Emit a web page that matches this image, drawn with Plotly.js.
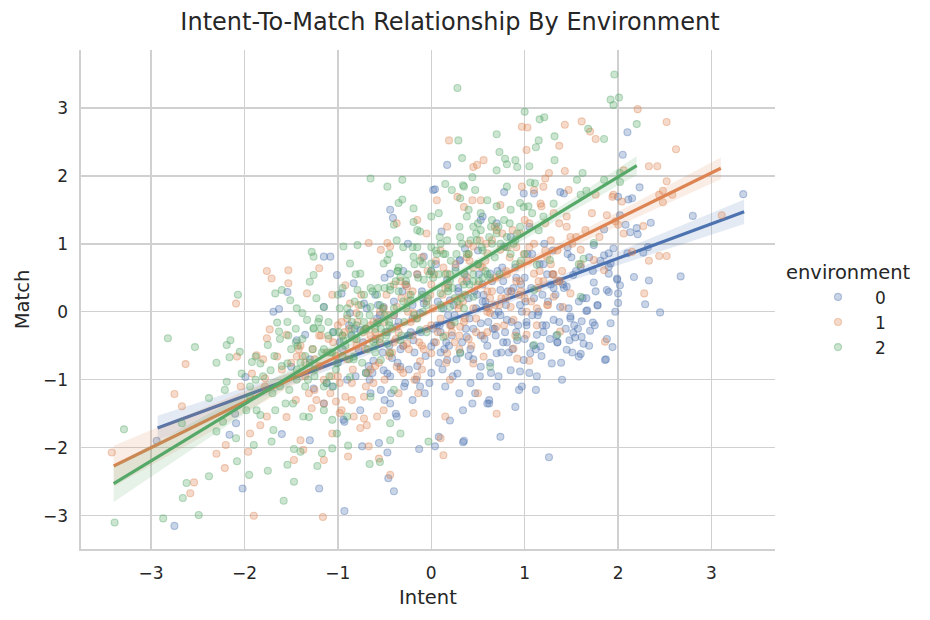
<!DOCTYPE html>
<html>
<head>
<meta charset="utf-8">
<script src="https://cdn.plot.ly/plotly-3.0.1.min.js"></script>
<style>html,body{margin:0;padding:0;background:#fff;}#chart{width:930px;height:620px;}</style>
</head>
<body>
<div id="chart"></div>
<script>
// ---------- data ----------
const envNames = ['0', '1', '2'];
const envColors = ['76,114,176', '221,132,82', '85,168,104'];

const x0 = [-2.94,-2.75,-2.02,-1.2,-0.93,-0.46,-0.40,-2.09,-2.16,-1.6,-1.3,-0.93,-0.74,-0.56,-0.47,-0.13,0.04,0.08,
3.34,2.8,2.1,2.05,2.23,2.35,2.2,2.13,2.21,2.32,2.27,2.67,2.17,2.33,2.0,2.29,2.45,1.9,2.0,1.78,1.74,1.66,1.49,1.61,1.73,1.7,1.54,1.63,1.69,1.94,1.6,1.87,1.48,1.52,
1.95,1.85,1.9,1.9,1.99,2.02,1.9,1.74,1.85,2.08,2.02,2.15,2.11,2.0,1.92,1.67,1.61,1.45,1.86,1.58,1.49,1.88,1.99,2.1,1.92,1.78,1.75,
1.29,1.13,1.06,0.99,1.17,1.31,1.38,1.52,1.45,1.6,1.42,1.38,1.1,0.78,0.99,0.53,0.36,0.11,0.02,0.7,0.78,0.63,0.74,0.59,0.53,0.38,0.81,0.92,0.7,0.53,0.28,0.95,0.85,0.72,
0.17,0.0,-0.19,-0.33,-0.47,-0.37,-0.12,0.17,0.31,-0.08,-0.44,-0.41,0.05,0.2,-1.15,-1.08,-1.54,-1.63,-1.69,-1.44,-1.35,-1.5,-1.26,-1.99,-2.1,-1.15,-1.06,-0.96,-0.83,-0.87,-0.76,
-0.51,-0.54,-0.76,-0.94,-0.44,-0.37,-1.15,-1.01,-0.44,-0.51,0.17,0.04,
-0.3,0.1,0.4,0.6,-0.1,0.8,0.3,-0.6,1.0,0.5,-0.2,0.9,0.2,1.1,-0.5,0.7,1.3,1.4,0.0,-0.9,-0.7,1.2,0.45,-0.15,0.65,1.05,0.25,-0.4,0.85,1.55,-1.3,-0.05,0.35,0.55,-0.25,
1.26,0.74,0.34,
-0.85,-0.62,-0.35,-0.18,0.12,0.33,0.48,0.66,0.88,1.02,
1.18,1.33,-0.72,-0.28,0.06,0.42,0.77,1.12,1.37,-0.95,
-0.55,-0.08,0.22,0.58,0.93,1.24,1.47,-0.42,0.15,0.68,
1.08,0.38,-0.65,-0.22,0.52,0.97,1.27,-1.05,-0.3,0.27,
0.82,1.15,-0.5,0.0,0.45,0.9,1.35,-0.15,0.62,1.05,
-0.78,0.3,0.75,1.2,-0.38,0.1,0.55,1.0,1.42,-0.6,
-1.12,-0.98,-0.81,-0.69,-0.52,-0.43,-0.31,-0.24,-0.11,-0.02,
0.07,0.14,0.23,0.29,0.37,0.44,0.51,0.57,0.64,0.71,
0.79,0.86,0.94,1.01,1.09,1.16,1.23,1.31,1.39,1.46,
-0.88,-0.66,-0.47,-0.27,-0.06,0.18,0.34,0.49,0.61,0.83,
0.97,1.14,1.28,1.44,1.58,-0.58,-0.16,0.26,0.69,1.21,
-0.73,-0.36,0.03,0.4,0.76,1.12,1.5,-0.2,0.56,0.91,
-1.0,-0.4,0.13,0.46,0.87,1.34,1.66,0.31,-0.09,0.62,
1.03,0.21,-0.63,0.72,1.19,0.41,-0.33,0.96,1.53,0.08,
-0.57,-0.29,0.09,0.36,0.63,0.91,1.19,1.46,1.73,1.97,
-0.82,-0.44,-0.07,0.24,0.53,0.81,1.07,1.35,1.62,1.88,
-0.67,-0.2,0.16,0.47,0.74,1.02,1.3,1.57,1.81,0.6,
-0.12,0.29,0.68,1.08,1.41,1.69,-0.45,0.02,0.86,1.25,
0.42,0.95,1.51,-0.25,0.19,0.77,1.37,1.76,0.55,1.13];
const y0 = [-1.9,-3.15,-2.6,-2.6,-2.93,-2.45,-2.64,-1.64,-1.81,-1.8,-1.89,-1.62,-1.98,-1.93,-2.07,-2.02,-1.98,-1.84,
1.73,1.41,2.64,2.31,1.83,1.31,1.23,1.17,1.14,0.95,0.87,0.52,0.51,0.46,0.27,0.11,-0.01,0.29,0.13,0.09,0.43,0.01,-0.1,-0.14,-0.16,-0.28,-0.38,-0.47,-0.5,-0.52,-0.62,-0.7,-0.42,-0.31,
0.93,0.83,0.86,0.66,0.49,0.39,0.56,0.98,1.21,1.28,1.42,1.67,1.65,1.69,-0.17,0.02,-0.37,-0.56,-0.71,-0.66,-0.07,0.32,0.47,0.86,0.71,0.1,-0.2,
-0.76,-0.34,-0.61,-0.71,-0.51,-0.12,0.07,0.54,0.37,0.66,1.74,1.76,1.74,1.76,1.74,1.35,0.93,1.18,1.79,1.3,0.96,0.56,0.32,0.07,-0.17,-0.37,-0.12,-0.42,-0.61,-0.81,-0.91,-0.88,-0.86,-0.95,
-0.71,-0.51,-0.42,-0.81,-0.91,-0.22,-0.02,0.47,0.76,0.81,1.5,1.38,0.7,0.17,0.81,0.81,0.29,0.04,0.0,-0.42,-0.34,-0.81,-1.13,-0.96,-1.5,-1.35,-1.1,0.27,0.42,-0.02,-0.27,
-0.86,-1.15,-1.45,-1.59,-1.35,-1.54,0.07,0.54,0.56,0.07,2.16,1.8,
-0.5,-0.3,0.2,-0.5,0.3,0.1,-1.2,-0.4,0.5,0.9,-1.3,-1.4,-1.6,0.2,0.5,-1.1,0.9,-1.0,0.6,-1.0,-0.9,-0.3,-0.7,-0.8,0.45,-0.9,-0.05,0.15,1.1,0.6,-0.7,-1.5,-1.9,1.4,1.0,
-2.14,-1.84,-1.92,
-0.35,-0.72,-0.15,-0.6,-0.85,-0.45,0.05,-0.25,0.35,-0.15,
-0.65,0.25,0.12,-1.05,-0.2,-0.55,-0.45,-1.15,0.45,-0.55,
-0.05,0.12,-0.35,0.15,-0.2,0.55,0.05,-0.68,-1.1,-0.05,
0.85,0.45,-1.2,-0.3,-0.95,-1.1,-0.4,-0.3,0.6,-0.7,
0.3,0.0,-1.3,-0.9,-0.25,0.65,-0.45,0.55,-1.3,1.25,
-0.55,0.75,-0.6,0.7,-1.5,-0.6,0.4,-0.4,0.35,0.25,
-1.05,-0.45,-0.95,0.05,-0.6,-1.2,0.3,-0.85,-0.3,-1.05,
0.15,-0.55,-0.95,0.35,-0.25,-1.35,0.55,-0.4,-0.9,0.6,
-0.3,0.3,-1.15,0.15,-0.5,0.7,-0.2,0.35,-0.75,0.95,
-0.2,-1.0,-0.3,0.4,-0.65,-0.05,-1.45,0.25,-0.15,-0.6,
0.0,-0.05,0.4,-0.25,0.15,-0.1,-1.0,0.65,-0.35,1.0,
-0.45,-0.75,-0.45,-0.65,0.65,-0.55,0.8,0.1,0.25,-0.3,
-0.75,-0.05,0.05,0.3,-0.55,-0.35,0.2,-0.6,0.2,-1.35,
0.85,-0.2,-0.9,0.0,0.25,-0.1,-0.55,0.4,-0.2,-0.75,
0.1,-1.1,-0.2,0.55,-0.75,0.5,-0.2,0.85,0.6,0.0,
-0.25,-0.95,-1.2,0.1,-0.35,-0.45,0.35,-0.45,0.2,-0.4,
-0.8,-0.1,-0.45,-1.2,-0.05,-0.2,0.55,-0.25,0.75,-1.35,
-1.1,0.3,-0.25,-0.05,0.4,0.8,-0.5,-0.25,-0.15,0.15,
-1.05,0.1,-0.6,-0.35,-0.5,0.45,-0.15,0.3,0.15,-0.95];

const x1 = [-3.42,-2.75,-2.67,-2.54,-2.58,-1.9,-1.16,-2.3,-2.21,-2.2,-1.96,-1.94,-1.83,-1.76,-1.47,-1.37,-1.15,-0.89,-0.56,-0.44,-1.06,-0.76,-0.67,0.13,0.1,-0.14,-0.19,-1.23,-1.4,-0.98,-0.83,-0.72,0.15,
-2.63,-2.09,-1.76,-1.71,-1.53,-1.53,-1.76,-1.73,-1.55,-1.65,-1.8,-2.08,-1.87,-1.44,-1.33,-1.2,-1.06,-0.67,-0.54,-0.47,-0.92,-0.87,-0.8,-1.08,-1.02,-1.28,-0.96,-0.72,-0.69,-0.58,-0.51,-0.37,-2.04,-1.92,-1.78,
0.19,0.97,1.03,1.43,1.61,1.7,1.76,2.21,2.33,2.42,1.02,1.37,0.56,0.45,0.49,1.26,1.43,1.22,1.2,1.47,0.35,0.44,0.74,0.97,1.1,1.76,1.95,2.06,
2.52,2.62,2.52,2.48,2.58,2.44,2.48,3.11,2.27,2.33,2.44,2.52,2.28,1.86,2.15,2.04,1.94,1.85,2.0,
1.13,1.38,1.41,1.31,1.49,1.6,1.74,1.88,2.06,1.97,1.45,1.31,1.17,0.88,1.02,1.02,0.85,0.63,0.92,1.05,0.7,0.45,0.56,0.88,0.31,0.17,0.0,-0.12,-0.26,-0.19,-0.37,-0.26,
0.17,0.38,0.53,0.6,0.45,0.74,0.95,1.1,1.24,0.17,-0.05,-0.15,0.06,-0.44,-0.37,0.53,0.28,
-0.3,-0.6,-0.9,-0.2,0.1,-0.5,0.3,-1.2,-1.4,0.0,-0.1,0.4,0.6,0.8,-0.4,0.2,-0.7,0.5,0.7,-1.0,
-1.35,-1.1,-0.85,-0.65,-0.45,-0.25,-0.05,0.15,0.35,0.55,
0.75,0.95,1.15,1.35,-1.25,-0.95,-0.75,-0.55,-0.35,-0.15,
0.05,0.25,0.45,0.65,0.85,1.05,1.25,-1.0,-0.6,-0.2,
0.2,0.6,1.0,1.4,-0.8,-0.4,0.0,0.4,0.8,1.2,
-1.15,-0.7,-0.3,0.1,0.5,0.9,1.3,-0.5,0.3,0.7,
-0.9,-0.1,0.6,1.1,-1.45,-0.65,0.15,0.95,1.55,-0.35,
-1.55,-1.42,-1.31,-1.18,-1.07,-0.96,-0.84,-0.73,-0.62,-0.51,
-0.42,-0.33,-0.24,-0.13,-0.04,0.07,0.16,0.26,0.34,0.43,
0.52,0.61,0.69,0.78,0.87,0.96,1.04,1.13,1.22,1.31,
-1.25,-0.98,-0.78,-0.57,-0.38,-0.18,0.02,0.22,0.41,0.63,
0.84,1.07,1.28,1.49,-0.88,-0.48,-0.08,0.33,0.73,1.16,
-1.05,-0.68,-0.28,0.12,0.48,0.91,1.38,-0.15,0.58,-0.55,
-1.35,-0.82,-0.22,0.29,0.81,1.24,0.05,-0.45,0.68,1.0,
-0.7,-0.05,0.38,0.99,-1.12,0.18,-0.32,0.55,1.45,-0.92,
-1.78,-1.6,-1.38,-1.15,-0.93,-0.7,-0.47,-0.24,-0.01,0.22,
0.45,0.68,0.91,1.14,1.37,1.6,1.8,-1.5,-1.02,-0.56,
-0.1,0.36,0.82,1.28,1.72,-1.27,-0.79,-0.33,0.13,0.59,
1.05,1.51,-0.62,-0.16,0.3,0.76,1.22,-0.4,0.48,0.94,
-1.2,-0.85,0.03,0.65,1.18,1.65,-0.25,0.4,1.35,-0.65];
const y1 = [-2.07,-1.21,-1.39,-2.51,-2.67,-3.0,-3.02,-2.09,-2.3,-1.96,-2.06,-1.79,-1.67,-1.54,-2.18,-2.03,-2.18,-2.13,-2.16,-2.4,-1.79,-1.71,-1.98,-2.11,-1.86,-1.2,-1.49,-1.3,-1.89,-1.49,-1.54,-1.25,-1.54,
-0.77,0.12,0.6,0.49,0.61,0.42,-0.39,-0.26,-0.34,-0.66,-0.7,-0.66,-0.64,-0.66,0.27,0.64,0.25,1.01,0.91,1.01,0.39,0.12,-0.02,-1.2,-1.32,-1.42,-1.45,-1.57,-1.67,-1.54,-1.45,-0.81,-1.1,-0.91,-0.98,
2.52,2.72,2.71,2.75,2.8,2.65,2.54,2.98,2.14,2.14,2.38,2.44,2.23,2.13,2.16,2.04,2.07,1.96,1.84,1.79,1.54,1.64,1.57,1.84,1.79,1.72,1.72,2.08,
2.79,2.39,1.92,1.78,1.72,1.72,1.61,1.42,1.26,0.75,0.82,0.82,0.27,-0.44,0.88,1.62,1.69,0.61,1.28,
-0.2,-0.29,0.07,0.22,0.27,0.91,0.76,1.42,1.15,1.33,1.25,1.45,1.59,-0.12,0.0,-0.34,0.07,-0.02,-0.69,-0.72,-0.22,-0.76,-0.66,-0.54,-0.22,-0.61,-0.61,-0.73,-0.47,-0.02,0.07,0.37,
0.56,0.51,0.66,0.86,0.96,0.91,0.71,0.56,0.81,1.25,1.15,1.35,1.64,0.96,1.3,1.64,1.69,
-0.9,-0.3,-0.7,0.3,-0.1,-1.0,0.1,-0.8,-0.5,0.4,-0.5,-0.4,0.3,0.6,0.4,-1.0,-1.1,-1.2,-1.5,-0.2,
-0.75,-0.4,-1.05,-0.2,-0.65,0.15,-0.25,0.35,-0.15,0.65,
0.2,1.15,0.45,0.9,-1.15,-0.35,0.25,-0.45,-0.3,0.55,
0.75,-0.45,0.05,1.05,0.3,0.95,0.1,-0.95,-0.8,-0.35,
-0.2,0.0,1.35,0.6,-0.5,-0.05,-0.2,1.0,0.2,0.45,
-1.0,-0.55,-0.5,0.9,0.4,-0.35,0.55,-0.15,-0.55,1.2,
-0.1,0.8,-0.3,1.0,-1.3,-0.85,-0.35,0.45,1.1,-1.2,
-1.55,-0.55,-1.2,-0.35,-0.95,-0.15,-0.85,-0.3,-1.05,0.05,
-0.6,-0.85,0.25,-0.45,0.6,-0.3,-0.75,0.7,0.15,-0.5,
1.05,0.05,0.5,-0.2,1.2,0.3,0.75,0.05,1.3,0.55,
-0.7,-1.05,0.1,-0.15,-0.4,-1.0,0.05,-0.2,0.75,0.2,
0.8,0.15,1.05,1.1,-0.25,0.25,-0.55,0.45,0.1,0.6,
-0.45,-0.9,0.4,0.25,-0.1,0.95,0.45,-0.95,0.75,0.0,
-0.95,-0.4,-0.15,0.05,0.55,0.1,-0.45,-0.6,1.25,0.2,
-0.25,0.15,0.8,0.85,-0.6,0.4,0.2,-0.35,1.4,-1.25,
-1.1,-0.85,-0.65,-1.35,-0.3,-0.25,-0.05,-0.55,0.25,-0.3,
0.65,0.1,0.45,0.35,1.3,0.7,1.1,-0.75,-0.65,-0.75,
-0.85,-0.1,0.95,0.7,1.45,-0.55,-0.15,0.45,0.65,1.0,
1.3,1.0,-0.15,-0.1,-0.35,1.15,0.9,-0.45,-0.3,0.25,
-0.35,-1.3,0.55,0.3,1.55,1.2,0.0,0.85,0.45,-0.35];

const x2 = [-3.39,-3.29,-2.87,-2.49,-2.66,-2.62,-2.38,-2.38,-2.3,-2.23,-2.21,-2.09,-2.08,-1.95,-1.75,-1.58,-1.47,-1.54,-1.47,-1.22,-1.17,-1.06,-0.89,-0.66,-0.55,-0.03,-1.71,-1.69,-1.9,-1.83,-1.31,-1.4,-1.06,-1.01,-0.33,-0.44,-2.67,
-2.82,-2.53,-2.3,-2.19,-2.15,-2.07,-2.16,-2.19,-2.05,-2.03,-1.94,-1.92,-1.88,-1.67,-1.65,-1.6,-1.51,-1.44,-1.63,-1.54,-1.33,-1.26,-1.28,-1.26,-1.26,-1.3,-1.38,-1.23,-1.15,
-1.75,-1.83,-1.72,-1.54,-1.94,-1.87,-1.67,-1.62,-1.44,-1.48,-1.37,-1.15,-1.05,-1.01,-0.87,-0.83,-0.94,-0.72,-0.65,-0.79,-0.76,-0.87,-0.94,-0.79,-0.51,-0.44,-0.58,-0.47,-0.54,-0.4,-0.65,-0.9,-0.44,
0.28,1.96,1.92,1.95,2.01,2.2,1.0,1.16,1.21,0.7,0.29,1.68,1.85,1.32,1.15,1.12,0.73,0.33,0.9,0.92,1.32,1.05,1.62,0.81,0.44,0.15,0.34,0.47,0.22,1.06,1.11,1.56,1.85,2.02,0.0,0.08,0.31,0.79,0.7,1.6,1.66,
-0.65,-0.31,-0.31,-0.35,-0.19,-0.19,-0.4,-0.12,0.35,0.6,0.53,0.38,0.17,0.31,0.49,0.7,0.95,0.99,0.85,0.81,1.31,1.74,1.6,1.27,1.1,1.13,0.53,
-0.19,-0.37,-0.47,0.0,0.35,-0.08,-0.33,-0.44,0.1,-0.22,0.2,0.45,-0.12,-0.33,-0.44,0.13,0.31,0.63,0.92,1.35,1.1,-0.47,1.63,1.58,2.02,
-1.45,-1.25,-1.05,-0.85,-0.65,-0.45,-0.25,-0.05,0.15,0.35,
-1.35,-1.15,-0.95,-0.75,-0.55,-0.35,-0.15,0.05,0.25,0.45,
-1.6,-1.2,-0.8,-0.4,0.0,0.4,0.6,-1.0,-0.6,-0.2,
0.2,-1.3,-0.9,-0.5,-0.1,0.3,0.55,-0.7,-0.3,0.1,
0.7,0.9,-1.1,-0.45,0.25,0.5,-0.85,-0.15,0.35,0.8,
-1.5,-0.6,-0.05,0.45,1.2,-1.15,-0.35,0.15,0.65,1.0,
-1.68,-1.56,-1.43,-1.32,-1.21,-1.09,-0.98,-0.88,-0.77,-0.68,
-0.58,-0.49,-0.38,-0.29,-0.18,-0.09,0.02,0.11,0.21,0.32,
0.42,0.51,0.62,0.73,0.84,0.96,1.08,-1.38,-1.12,-0.82,
-0.62,-0.42,-0.22,-0.02,0.18,0.38,0.58,0.78,-1.52,-0.92,
-0.72,-0.52,-0.32,-0.12,0.08,0.28,0.48,0.68,0.88,-1.02,
-1.27,-0.57,0.13,0.55,-0.83,-0.27,0.33,0.92,-0.04,-0.66,
-1.18,-0.48,0.23,0.64,-0.14,-0.95,0.41,-0.36,1.15,-0.74,
-1.45,0.06,-0.55,0.74,-0.24,0.5,-0.86,0.26,-1.06,1.04,
-1.98,-1.8,-1.62,-1.44,-1.26,-1.08,-0.9,-0.72,-0.54,-0.36,
-0.18,0.0,0.18,0.36,0.54,0.72,0.9,-1.7,-1.35,-0.99,
-0.63,-0.27,0.09,0.45,0.81,-1.53,-1.17,-0.81,-0.45,-0.09,
0.27,0.63,-1.88,-1.1,-0.7,-0.3,0.1,0.5,0.95,-0.5,
-1.4,-0.95,-0.15,0.4,0.85,-1.25,-0.6,0.2,0.65,-0.8];
const y2 = [-3.1,-1.73,-3.04,-2.99,-2.74,-2.52,-2.42,-1.27,-1.76,-1.62,-1.15,-1.86,-2.2,-2.4,-2.34,-2.78,-2.5,-2.25,-2.02,-2.27,-2.08,-2.01,-1.97,-2.24,-2.21,-1.91,-1.91,-1.74,-1.96,-1.52,-1.55,-2.06,-1.59,-1.79,-1.79,-1.89,-1.64,
-0.39,-0.52,-0.75,-0.49,-0.42,0.25,-0.67,-1.03,-0.59,-0.91,-1.1,-0.74,-0.66,0.27,-0.16,0.32,0.17,0.05,-0.29,-0.15,-0.12,-0.24,0.88,0.81,0.54,0.44,-0.02,0.2,0.07,
-0.49,-0.76,-0.86,-0.76,-1.25,-1.45,-1.45,-1.1,-1.0,-1.35,-1.54,-1.45,-1.1,-0.76,-0.96,-0.66,-0.42,-0.27,0.07,0.32,0.56,0.71,0.96,0.98,0.71,0.37,-0.17,-0.47,-0.71,-1.15,-1.25,-1.54,-1.64,
3.29,3.49,3.12,3.04,3.15,2.76,2.94,2.83,2.86,2.61,2.52,2.69,2.54,2.58,2.52,2.42,2.35,2.26,2.23,2.13,2.23,2.14,2.04,2.17,1.98,1.88,1.86,1.79,1.79,1.9,1.89,1.94,1.94,1.91,1.4,1.45,1.67,2.25,2.08,1.72,1.78,
1.96,1.94,1.65,1.6,1.52,1.32,1.28,1.18,1.84,1.64,1.45,1.4,1.05,1.1,1.05,1.15,1.25,1.54,1.5,1.84,1.59,1.01,0.22,0.76,0.32,0.69,1.2,
0.81,1.05,0.76,0.71,0.56,0.47,0.51,0.32,0.27,0.17,0.07,0.22,-0.27,-0.42,-0.61,-0.37,-0.61,-0.81,-0.37,-0.34,-0.49,1.84,0.78,0.7,2.04,
-0.45,-0.85,-0.3,-0.15,0.35,-0.2,0.55,0.1,0.85,0.4,
-1.1,-0.55,-0.65,0.1,-0.4,0.65,-0.1,0.9,0.2,1.25,
-0.8,-0.1,-0.4,0.05,0.6,0.85,0.55,0.25,-0.6,0.95,
0.45,-0.75,0.05,-0.05,0.25,1.25,0.9,-0.9,0.15,1.0,
1.55,1.05,-0.35,0.85,-0.15,0.7,-0.25,1.2,0.05,0.95,
-0.55,-0.25,-0.3,0.45,1.4,-1.1,0.3,0.55,1.35,0.85,
-0.65,-1.35,-0.5,-1.0,-0.15,-0.95,0.05,-0.7,-0.05,-0.55,
0.25,-0.3,0.45,-0.15,0.7,0.0,0.5,0.05,0.75,0.2,
1.05,0.45,1.1,0.55,1.3,0.75,1.45,-0.4,-1.05,0.15,
-0.45,-0.25,0.25,0.55,0.3,0.85,0.6,1.35,-1.15,-0.5,
-0.15,0.05,-0.35,0.75,0.55,0.15,1.15,0.8,1.0,-0.85,
-0.55,0.35,0.85,0.5,-0.7,0.05,1.0,1.15,0.2,-0.05,
-0.25,-0.35,0.35,1.25,0.5,-0.35,0.4,0.6,1.2,-0.75,
-0.25,0.85,0.1,1.0,-0.35,1.3,-0.35,0.6,-0.6,1.55,
-1.45,-0.95,-0.4,-0.85,-0.25,-0.6,-0.05,0.25,-0.25,0.6,
-0.05,0.95,0.35,0.25,0.95,1.25,0.7,-1.2,-0.65,-0.3,
0.3,0.45,1.1,0.55,1.1,-0.35,-0.6,0.55,-0.15,0.7,
0.85,0.5,-1.0,-0.15,-0.25,0.95,0.1,0.7,1.6,0.35,
-0.75,0.35,0.95,1.5,0.85,-0.95,-0.5,0.55,1.0,-0.2];

// regression fits (line values and confidence half-widths)
const fitX0 = [-2.93, -1.5, 0, 1.5, 3.35];
const fitY0 = [-1.71, -0.985, -0.23, 0.53, 1.47];
const ci0   = [0.18, 0.09, 0.045, 0.07, 0.18];
const fitX1 = [-3.4, -1.5, 0, 1.5, 3.1];
const fitY1 = [-2.27, -0.99, 0.02, 1.03, 2.11];
const ci1   = [0.3, 0.11, 0.05, 0.08, 0.16];
const fitX2 = [-3.4, -1.5, 0, 1.5, 2.2];
const fitY2 = [-2.53, -0.94, 0.31, 1.56, 2.15];
const ci2   = [0.27, 0.1, 0.05, 0.09, 0.14];

const tickVals = [-3, -2, -1, 0, 1, 2, 3];
const xTickText = ['\u22123', '\u22122', '\u22121', '0', '1', '2', '3'];
const yTickText = ['\u22123', '\u22122', '\u22121', '0', '1', '2', '3'];

// ---------- traces ----------
const groups = [
  {x: x0, y: y0, fx: fitX0, fy: fitY0, ci: ci0},
  {x: x1, y: y1, fx: fitX1, fy: fitY1, ci: ci1},
  {x: x2, y: y2, fx: fitX2, fy: fitY2, ci: ci2}
];
const traces = [];
groups.forEach((g, i) => {
  const c = envColors[i];
  traces.push({
    type: 'scatter', mode: 'markers', x: g.x, y: g.y, name: envNames[i],
    marker: {size: 7, color: 'rgba(' + c + ',0.3)', line: {color: 'rgba(' + c + ',0.4)', width: 1.1}},
    hoverinfo: 'skip', legendgroup: envNames[i]
  });
  const up = g.fy.map((v, k) => v + g.ci[k]);
  const lo = g.fy.map((v, k) => v - g.ci[k]);
  traces.push({
    type: 'scatter', mode: 'lines', x: g.fx.concat(g.fx.slice().reverse()),
    y: up.concat(lo.slice().reverse()), fill: 'toself',
    fillcolor: 'rgba(' + c + ',0.15)', line: {width: 0}, showlegend: false, hoverinfo: 'skip'
  });
  traces.push({
    type: 'scatter', mode: 'lines', x: g.fx, y: g.fy,
    line: {color: 'rgb(' + c + ')', width: 3.2}, showlegend: false, hoverinfo: 'skip'
  });
});

const FONT = 'DejaVu Sans, Liberation Sans, sans-serif';
const TXT = '#262626';
const GRID = '#d0d0d0';
const layout = {
  width: 930, height: 620,
  margin: {l: 81, r: 155, t: 50, b: 71},
  paper_bgcolor: '#ffffff', plot_bgcolor: '#ffffff',
  font: {family: FONT, color: TXT, size: 17},
  title: {text: 'Intent-To-Match Relationship By Environment', x: 450 / 930, xanchor: 'center', xref: 'container',
          y: 1 - 22 / 620, yanchor: 'middle', yref: 'container', font: {size: 24, color: TXT, family: FONT}},
  xaxis: {range: [-3.75, 3.68], tickvals: tickVals, ticktext: xTickText,
          showgrid: true, gridcolor: GRID, gridwidth: 1.5, zeroline: false,
          showline: true, linecolor: GRID, linewidth: 1.6,
          ticks: 'outside', ticklen: 8, tickcolor: 'rgba(0,0,0,0)',
          tickfont: {size: 17, color: TXT},
          title: {text: 'Intent', font: {size: 19.5, color: TXT}, standoff: 8}},
  yaxis: {range: [-3.49, 3.85], tickvals: tickVals, ticktext: yTickText,
          showgrid: true, gridcolor: GRID, gridwidth: 1.5, zeroline: false,
          showline: true, linecolor: GRID, linewidth: 1.6,
          ticks: 'outside', ticklen: 8, tickcolor: 'rgba(0,0,0,0)',
          tickfont: {size: 17, color: TXT},
          title: {text: 'Match', font: {size: 19.5, color: TXT}, standoff: 8}},
  legend: {xref: 'container', yref: 'container', x: 784 / 930, y: 1 - 254 / 620,
           xanchor: 'left', yanchor: 'top', bgcolor: 'rgba(0,0,0,0)',
           font: {size: 17, color: TXT}, itemwidth: 64, indentation: 17, tracegroupgap: 0,
           title: {text: 'environment', font: {size: 19.5, color: TXT}}},
  showlegend: true
};

Plotly.newPlot('chart', traces, layout, {staticPlot: true, displayModeBar: false});
</script>
</body>
</html>
